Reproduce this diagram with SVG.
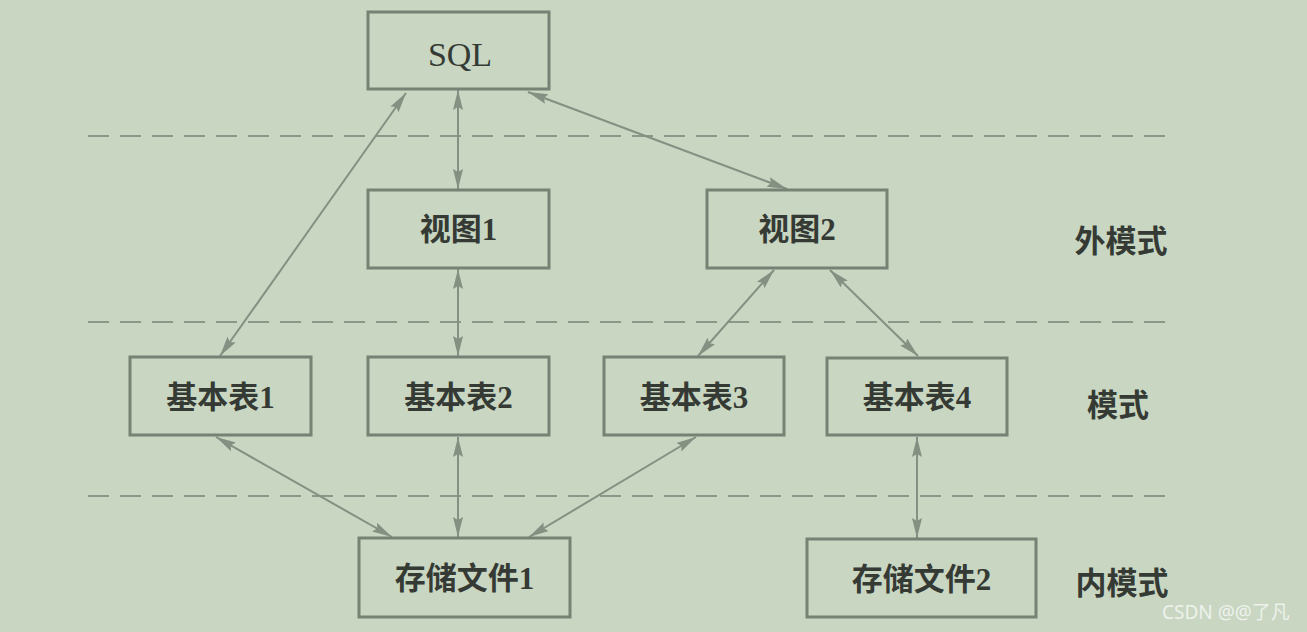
<svg xmlns="http://www.w3.org/2000/svg" width="1307" height="632" viewBox="0 0 1307 632">
<style>
.bg{fill:#c8d6c2}
.box{fill:none;stroke:#778275;stroke-width:3}
.lbl{font-family:"Liberation Serif","Noto Sans CJK SC",serif;font-size:31px;fill:#353a34;text-anchor:middle;font-weight:bold}
.side{font-family:"Noto Sans CJK SC",sans-serif;font-size:31px;fill:#353a34;text-anchor:middle;font-weight:bold}
.dash{stroke:#8c978a;stroke-width:2;stroke-dasharray:21 11;fill:none}
.con{stroke:#849082;stroke-width:2;fill:none;marker-start:url(#ah);marker-end:url(#ah)}
.wm{font-family:"Noto Sans","Noto Sans CJK SC",sans-serif;font-size:19px;fill:#eef2ec}
</style>
<defs>
<marker id="ah" markerUnits="userSpaceOnUse" markerWidth="22" markerHeight="12" refX="20" refY="5" orient="auto-start-reverse" viewBox="0 0 22 12">
<path d="M0,0 L20,5 L0,10 L3,5 z" fill="#849082"/>
</marker>
</defs>
<rect class="bg" x="0" y="0" width="1307" height="632"/>
<g id="layers">
<line class="dash" x1="88" y1="136" x2="1168" y2="136"/>
<line class="dash" x1="88" y1="322" x2="1168" y2="322"/>
<line class="dash" x1="88" y1="496" x2="1168" y2="496"/>
</g>
<g id="connectors">
<line class="con" x1="458" y1="90" x2="458" y2="189"/>
<line class="con" x1="406" y1="93" x2="220" y2="356"/>
<line class="con" x1="528" y1="92" x2="787" y2="189"/>
<line class="con" x1="458" y1="269" x2="458" y2="356"/>
<line class="con" x1="774" y1="270" x2="698" y2="356"/>
<line class="con" x1="830" y1="270" x2="918" y2="356"/>
<line class="con" x1="216" y1="437" x2="392" y2="537"/>
<line class="con" x1="458" y1="437" x2="458" y2="537"/>
<line class="con" x1="696" y1="437" x2="529" y2="537"/>
<line class="con" x1="917" y1="437" x2="917" y2="538"/>
</g>
<g id="sql"><rect class="box" x="368" y="12" width="181" height="77"/><text class="lbl" x="460" y="66" style="font-weight:normal;font-size:34px">SQL</text></g>
<g id="view1"><rect class="box" x="368" y="190" width="181" height="78"/><text class="lbl" x="458.5" y="240">视图1</text></g>
<g id="view2"><rect class="box" x="707" y="190" width="180" height="78"/><text class="lbl" x="797" y="240">视图2</text></g>
<g id="table1"><rect class="box" x="130" y="357" width="181" height="78"/><text class="lbl" x="220.5" y="408">基本表1</text></g>
<g id="table2"><rect class="box" x="368" y="357" width="181" height="78"/><text class="lbl" x="458.5" y="408">基本表2</text></g>
<g id="table3"><rect class="box" x="604" y="357" width="180" height="78"/><text class="lbl" x="694" y="408">基本表3</text></g>
<g id="table4"><rect class="box" x="827" y="358" width="180" height="77"/><text class="lbl" x="917" y="408">基本表4</text></g>
<g id="file1"><rect class="box" x="359" y="538" width="211" height="79"/><text class="lbl" x="464.5" y="589">存储文件1</text></g>
<g id="file2"><rect class="box" x="807" y="539" width="229" height="78"/><text class="lbl" x="921.5" y="590">存储文件2</text></g>
<g id="labels">
<text class="side" x="1121" y="252">外模式</text>
<text class="side" x="1118" y="416">模式</text>
<text class="side" x="1122" y="594">内模式</text>
</g>
<text class="wm" x="1162" y="619">CSDN @@了凡</text>
</svg>
